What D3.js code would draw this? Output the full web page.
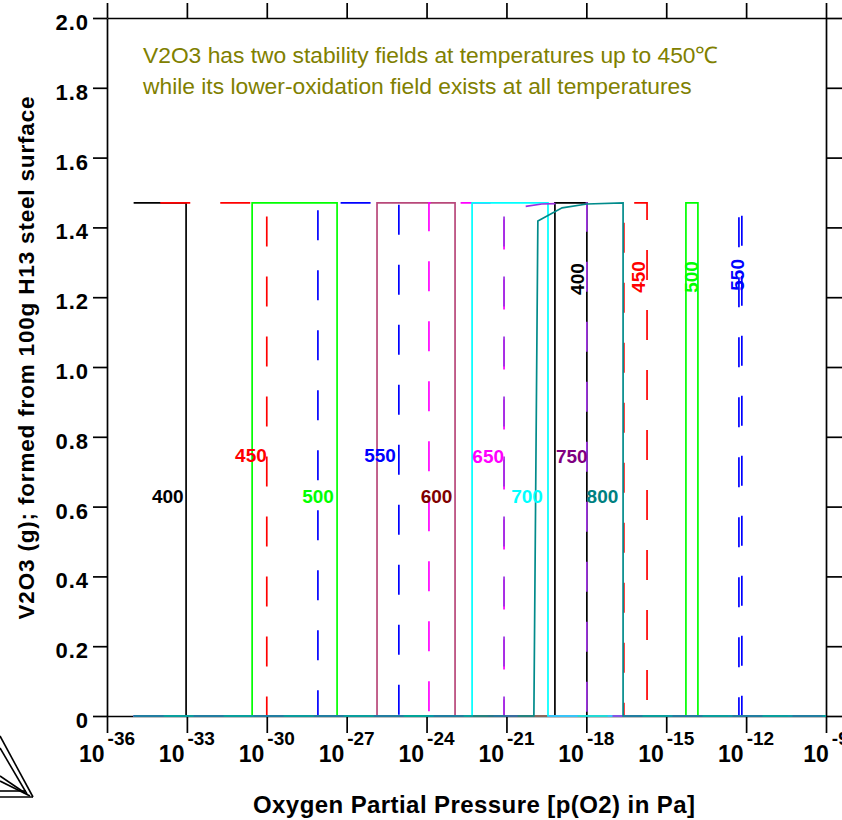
<!DOCTYPE html>
<html><head><meta charset="utf-8">
<script src="https://cdn.jsdelivr.net/npm/d3@7"></script>
<style>body{margin:0;background:#fff} svg{display:block}</style>
</head><body><svg id="c" width="842" height="820"></svg>
<script>
// ---------- data (x = log10 pO2 [Pa], y = g V2O3) ----------
const temps = ["400","450","500","550","600","650","700","750","800"];
const s400 = [[-35,1.47],[-33.03,1.47],[-33.03,0],[-19.18,0],[-19.18,1.47],[-17.98,1.47],[-17.98,0],[-9,0]];
const s450 = [[-34,1.47],[-30,1.47],[-30,0],[-16.59,0],[-16.59,1.47],[-15.72,1.47],[-15.72,0],[-9,0]];
const s500 = [[-35,0],[-30.55,0],[-30.55,1.47],[-27.36,1.47],[-27.36,0],[-14.26,0],[-14.26,1.47],[-13.81,1.47],[-13.81,0],[-9,0]];
const s550 = [[-35,0],[-28.08,0],[-28.08,1.47],[-25.04,1.47],[-25.04,0],[-12.27,0],[-12.27,1.47],[-12.16,1.47],[-12.16,0],[-9,0]];
const s600 = [[-35,0],[-25.86,0],[-25.86,1.47],[-22.93,1.47],[-22.93,0],[-9,0]];
const s650 = [[-35,0],[-23.91,0],[-23.91,1.47],[-21.09,1.47],[-21.09,0],[-9,0]];
const s700 = [[-35,0],[-22.29,0],[-22.29,1.47],[-19.44,1.47],[-19.44,0],[-9,0]];
const s750 = [[-35,0],[-21.09,0],[-21.09,1.455],[-20.79,1.455],[-19.67,1.467],[-17.98,1.47],[-17.98,0],[-9,0]];
const s800 = [[-35,0],[-19.97,0],[-19.82,1.418],[-18.91,1.456],[-17.98,1.467],[-16.62,1.47],[-16.62,0],[-9,0]];
const series = [s400,s450,s500,s550,s600,s650,s700,s750,s800];

// labels for first stability fields (anchor at right end, data coords)
const labelLogP = [-33.12,-30.0,-27.48,-25.15,-23.03,-21.09,-19.63,-17.95,-16.80];
const labelG    = [0.61,0.728,0.61,0.728,0.61,0.725,0.61,0.725,0.61];
// rotated labels for second stability fields
const rotTemps = ["400","450","500","550"];
const rotLogP  = [-18.09,-15.80,-13.81,-12.08];
const rotG     = [1.252,1.258,1.258,1.264];

const xTicks = [-36,-33,-30,-27,-24,-21,-18,-15,-12,-9];
const yTicks = [0,0.2,0.4,0.6,0.8,1.0,1.2,1.4,1.6,1.8,2.0];
const yTickLabels = ["0","0.2","0.4","0.6","0.8","1.0","1.2","1.4","1.6","1.8","2.0"];
const note = ["V2O3 has two stability fields at temperatures up to 450\u2103",
              "while its lower-oxidation field exists at all temperatures"];
const xTitle = "Oxygen Partial Pressure [p(O2) in Pa]";
const yTitle = "V2O3 (g); formed from 100g H13 steel surface";

// ---------- styles ----------
const lineColors  = ["#000000","#ff0000","#00ff00","#0000ff","#b8487a","#ff00ff","#00ffff","#9b30e0","#008b8b"];
const labelColors = ["#000000","#ff0000","#00ff00","#0000ff","#800000","#ff00ff","#00ffff","#800080","#008080"];
const dashed = [false,true,false,true,false,true,false,true,false];
const FONT = "'Liberation Sans', Arial, Helvetica, sans-serif";

const svg = d3.select("#c");
const x = d3.scaleLinear().domain([-36,-9]).range([107,826]);
const y = d3.scaleLinear().domain([0,2]).range([716,18]);

// logo fragment bottom-left
const logo = svg.append("g").attr("stroke","#000").attr("stroke-width",1.6).attr("fill","none");
[[0,736,33,797],[0,748,27,794],[0,776,25,793],[0,781,30,796],[0,791,26,791],[0,797,33,797]].forEach(l=>{
  logo.append("line").attr("x1",l[0]).attr("y1",l[1]).attr("x2",l[2]).attr("y2",l[3]);
});

// axes
function styleAxis(g){ g.selectAll("path,line").attr("stroke","#000").attr("stroke-width",1.7); }
svg.append("g").attr("transform",`translate(0,${y(0)})`)
  .call(d3.axisBottom(x).tickValues(xTicks).tickSize(17).tickSizeOuter(0).tickFormat("")).call(styleAxis);
svg.append("g").attr("transform",`translate(0,${y(2)})`)
  .call(d3.axisTop(x).tickValues(xTicks).tickSize(15).tickSizeOuter(0).tickFormat("")).call(styleAxis);
svg.append("g").attr("transform",`translate(${x(-36)},0)`)
  .call(d3.axisLeft(y).tickValues(yTicks).tickSize(14).tickSizeOuter(0).tickFormat("")).call(styleAxis);
svg.append("g").attr("transform",`translate(${x(-9)},0)`)
  .call(d3.axisRight(y).tickValues(yTicks).tickSize(16).tickSizeOuter(0).tickFormat("")).call(styleAxis);

// y tick labels
svg.append("g").selectAll("text").data(yTicks).join("text")
  .attr("x",89).attr("y",d=>y(d)+12).attr("text-anchor","end")
  .attr("font-family",FONT).attr("font-weight","bold").attr("font-size",22)
  .attr("letter-spacing",1).attr("fill","#000")
  .text((d,i)=>yTickLabels[i]);

// x tick labels 10^n
const xl = svg.append("g").selectAll("text").data(xTicks).join("text")
  .attr("x",d=>x(d)).attr("y",762).attr("text-anchor","middle")
  .attr("font-family",FONT).attr("font-weight","bold").attr("fill","#000");
xl.append("tspan").attr("font-size",23).text("10");
xl.append("tspan").attr("font-size",19).attr("dx",3).attr("dy",-17).text(d=>String(d));

// data lines
const line = d3.line().x(d=>x(d[0])).y(d=>y(d[1]));
series.forEach((s,i)=>{
  svg.append("path").attr("d",line(s)).attr("fill","none")
    .attr("stroke",lineColors[i]).attr("stroke-width",1.7)
    .attr("stroke-dasharray",dashed[i]?"30,30":null);
});

// field labels
svg.append("g").selectAll("text").data(temps).join("text")
  .attr("x",(d,i)=>x(labelLogP[i])).attr("y",(d,i)=>y(labelG[i])).attr("text-anchor","end")
  .attr("font-family",FONT).attr("font-weight","bold").attr("font-size",19)
  .attr("fill",(d,i)=>labelColors[i]).text(d=>d);

svg.append("g").selectAll("text").data(rotTemps).join("text")
  .attr("transform",(d,i)=>`translate(${x(rotLogP[i])},${y(rotG[i])}) rotate(-90)`)
  .attr("text-anchor","middle")
  .attr("font-family",FONT).attr("font-weight","bold").attr("font-size",19)
  .attr("fill",(d,i)=>labelColors[i]).text(d=>d);

// annotation
svg.append("g").selectAll("text").data(note).join("text")
  .attr("x",143).attr("y",(d,i)=>63+i*31)
  .attr("font-family",FONT).attr("font-size",22.8).attr("fill","#808000").text(d=>d);

// axis titles
svg.append("text").attr("x",474).attr("y",813).attr("text-anchor","middle")
  .attr("font-family",FONT).attr("font-weight","bold").attr("font-size",24)
  .attr("textLength",442).attr("lengthAdjust","spacing").attr("fill","#000").text(xTitle);
svg.append("text").attr("transform","translate(34,358) rotate(-90)").attr("text-anchor","middle")
  .attr("font-family",FONT).attr("font-weight","bold").attr("font-size",22.5)
  .attr("textLength",523).attr("lengthAdjust","spacing").attr("fill","#000").text(yTitle);
</script>
</body></html>
